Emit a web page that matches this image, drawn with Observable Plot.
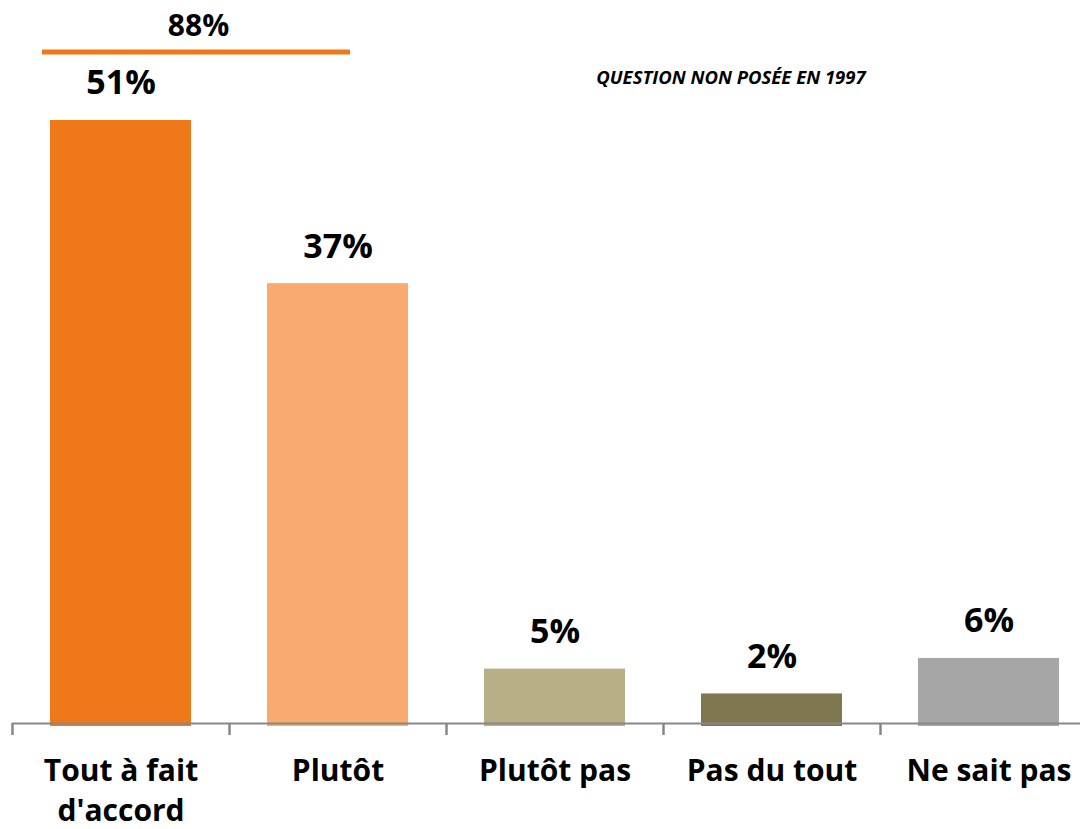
<!DOCTYPE html>
<html>
<head>
<meta charset="utf-8">
<script src="https://cdn.jsdelivr.net/npm/d3@7"></script>
<script src="https://cdn.jsdelivr.net/npm/@observablehq/plot@0.6"></script>
<style>
  html, body { margin: 0; padding: 0; background: #fff; overflow: hidden; }
  #chart svg { display: block; }
</style>
</head>
<body>
<div id="chart"></div>
<script>
// Data
const categories = ["Tout à fait\nd'accord", "Plutôt", "Plutôt pas", "Pas du tout", "Ne sait pas"];
const values = [51, 37.2, 4.6, 2.5, 5.5];
const valueLabels = ["51%", "37%", "5%", "2%", "6%"];
const barColors = ["#EF7918", "#F9AA70", "#B7AF86", "#7F7750", "#A6A6A6"];
const totalLabel = ["88%"];
const totalSpan = [categories[0], categories[1]];
const noteLabel = ["QUESTION NON POSÉE EN 1997"];

const rows = categories.map((c, i) => ({category: c, value: values[i], label: valueLabels[i]}));
const topValue = d3.max(values);

const W = 1080, H = 829;
const xRange = [12, 1097];
const step = (xRange[1] - xRange[0]) / categories.length;
const axisColor = "#878787";
const font = "'Open Sans', sans-serif";

const chart = Plot.plot({
  width: W,
  height: H,
  marginLeft: 12,
  marginRight: 0,
  marginTop: 120,
  marginBottom: 106,
  style: {fontFamily: font, color: "#000", background: "#fff"},
  x: {domain: categories, range: xRange, paddingInner: 0.35, paddingOuter: 0.175, label: null},
  y: {domain: [0, topValue], axis: null},
  color: {domain: categories, range: barColors},
  marks: [
    Plot.barY(rows, {x: "category", y: "value", fill: "category", insetBottom: -3}),
    Plot.ruleY([0], {stroke: axisColor, strokeWidth: 2}),
    Plot.axisX({tickSize: 12, tickFormat: () => "", dx: -step / 2, stroke: axisColor, strokeWidth: 2.5}),
    Plot.axisX({tickSize: 0, tickPadding: 29, fontSize: 30, fontWeight: "bold", lineHeight: 1.33, fill: "#000"}),
    Plot.text(rows, {x: "category", y: "value", text: "label", dy: -37, fontSize: 34, fontWeight: "bold", fill: "#000"}),
    Plot.ruleY([topValue], {x1: () => totalSpan[0], x2: () => totalSpan[1], dy: -68.5, insetLeft: -8, insetRight: 58, stroke: barColors[0], strokeWidth: 5}),
    Plot.text(totalLabel, {x: () => totalSpan[0], y: () => topValue, text: d => d, dx: 77.5, dy: -94.5, fontSize: 30, fontWeight: "bold", fill: "#000"}),
    Plot.text(noteLabel, {x: () => categories[3], y: () => topValue, text: d => d, dx: -41, dy: -42, fontSize: 18.5, fontWeight: "bold", fontStyle: "italic", fill: "#000"})
  ]
});
document.getElementById("chart").appendChild(chart);
</script>
</body>
</html>
